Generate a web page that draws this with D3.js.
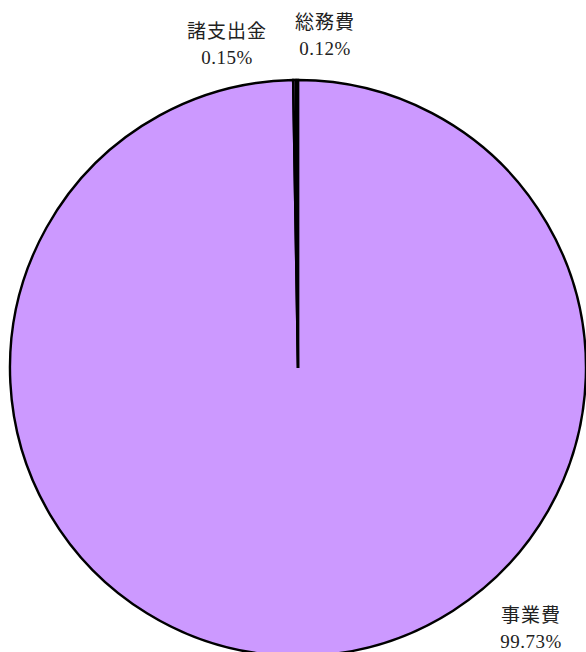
<!DOCTYPE html>
<html><head><meta charset="utf-8">
<script src="https://cdn.jsdelivr.net/npm/d3@7"></script>
<style>body{margin:0;background:#fff}svg{display:block}</style>
</head><body>
<script>
const categories = ["事業費", "諸支出金", "総務費"];
const values = [99.73, 0.15, 0.12];
const valueLabels = ["99.73%", "0.15%", "0.12%"];

const W = 586, H = 652;
const cx = 298, cy = 368, R = 288;
const colors = ["#CC99FF", "#CC99FF", "#CC99FF"];
const svg = d3.select("body").append("svg").attr("width", W).attr("height", H);
const data = categories.map((c, i) => ({cat: c, v: values[i], lab: valueLabels[i], col: colors[i]}));
const pie = d3.pie().value(d => d.v).sort(null);
const arc = d3.arc().innerRadius(0).outerRadius(R);
const g = svg.append("g").attr("transform", `translate(${cx},${cy})`);
g.selectAll("path").data(pie(data)).join("path")
  .attr("d", arc).attr("fill", d => d.data.col)
  .attr("stroke", "#000").attr("stroke-width", 2.4).attr("stroke-linejoin", "miter");

const labelPos = {"事業費": [531, 615], "諸支出金": [227, 31], "総務費": [325, 22]};
const font = "'Liberation Serif','Noto Sans CJK JP',serif";
data.forEach(d => {
  const [x, y] = labelPos[d.cat];
  const t = svg.append("text").attr("x", x).attr("y", y).attr("text-anchor", "middle")
    .attr("font-family", font).attr("font-size", 19).attr("fill", "#222");
  t.append("tspan").attr("x", x).attr("dy", 7).attr("letter-spacing", 1).text(d.cat);
  t.append("tspan").attr("x", x).attr("dy", 26).attr("letter-spacing", 0.5).text(d.lab);
});
</script>
</body></html>
